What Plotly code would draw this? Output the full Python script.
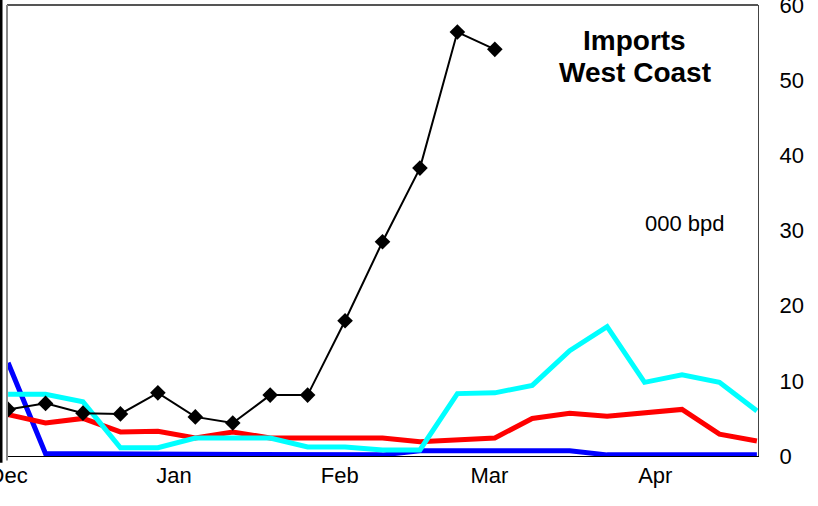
import plotly.graph_objects as go

dates = ["2002-12-01", "2002-12-08", "2002-12-15", "2002-12-22", "2002-12-29",
         "2003-01-05", "2003-01-12", "2003-01-19", "2003-01-26", "2003-02-02",
         "2003-02-09", "2003-02-16", "2003-02-23", "2003-03-02", "2003-03-09",
         "2003-03-16", "2003-03-23", "2003-03-30", "2003-04-06", "2003-04-13",
         "2003-04-20"]

black_vals = [6.2, 7.0, 5.7, 5.6, 8.4, 5.2, 4.4, 8.1, 8.1, 18.0, 28.5, 38.3, 56.4, 54.1]
red_vals = [5.5, 4.4, 5.0, 3.2, 3.3, 2.4, 3.2, 2.4, 2.4, 2.4, 2.4, 1.9, 2.1, 2.4,
            5.0, 5.7, 5.3, 5.7, 6.2, 2.9, 2.0]
cyan_vals = [8.2, 8.2, 7.2, 1.1, 1.1, 2.4, 2.4, 2.4, 1.2, 1.2, 0.8, 0.8, 8.3, 8.4,
             9.4, 14.0, 17.2, 9.8, 10.8, 9.8, 6.0]
blue_vals = [12.4, 0.3, 0.3, 0.3, 0.15, 0.15, 0.15, 0.15, 0.15, 0.15, 0.15, 0.7, 0.7,
             0.7, 0.7, 0.7, 0.15, 0.15, 0.15, 0.15, 0.15]

month_ticks = ["2002-12-01", "2003-01-01", "2003-02-01", "2003-03-01", "2003-04-01"]
month_labels = ["Dec", "Jan", "Feb", "Mar", "Apr"]
y_ticks = [0, 10, 20, 30, 40, 50, 60]

FONT = "Liberation Sans, Arial, sans-serif"

fig = go.Figure()
fig.add_trace(go.Scatter(x=dates, y=blue_vals, mode="lines",
                         line=dict(color="#0000FF", width=5), showlegend=False))
fig.add_trace(go.Scatter(x=dates, y=red_vals, mode="lines",
                         line=dict(color="#FF0000", width=5), showlegend=False))
fig.add_trace(go.Scatter(x=dates, y=cyan_vals, mode="lines",
                         line=dict(color="#00FFFF", width=5), showlegend=False))
fig.add_trace(go.Scatter(x=dates[:len(black_vals)], y=black_vals, mode="lines+markers",
                         line=dict(color="#000000", width=2),
                         marker=dict(symbol="diamond", size=12, color="#000000"),
                         showlegend=False))

fig.update_layout(
    width=818, height=506,
    margin=dict(l=7, r=60, t=5, b=50, autoexpand=False),
    paper_bgcolor="white", plot_bgcolor="white",
    font=dict(family=FONT, color="black", size=22),
    xaxis=dict(type="date", range=["2002-11-30 19:00", "2003-04-20 05:00"],
               tickvals=month_ticks, ticktext=month_labels,
               showgrid=False, zeroline=False, showline=True,
               linecolor="black", linewidth=1, ticks="", layer="below traces",
               ticklabeloverflow="allow",
               tickfont=dict(size=22, family=FONT), automargin=False),
    yaxis=dict(side="right", range=[0, 60], tickvals=y_ticks,
               showgrid=False, zeroline=False, showline=True,
               linecolor="#444444", linewidth=1, ticks="",
               ticklabelstandoff=16, ticklabeloverflow="allow",
               tickfont=dict(size=22, family=FONT), automargin=False),
    shapes=[
        dict(type="line", xref="paper", yref="paper", x0=0, x1=1, y0=1, y1=1,
             line=dict(color="#555555", width=2)),
        dict(type="line", xref="paper", yref="paper", x0=0, x1=0, y0=-0.01, y1=1,
             line=dict(color="#888888", width=2)),
        dict(type="line", xref="paper", yref="paper", x0=-6/751, x1=-6/751,
             y0=-0.015, y1=1.02, line=dict(color="black", width=3)),
    ],
    annotations=[
        dict(text="<b>Imports</b>", xref="paper", yref="paper",
             x=(634.5 - 7) / 751, y=(456 - 40) / 451, showarrow=False,
             font=dict(size=28, family=FONT), xanchor="center", yanchor="middle"),
        dict(text="<b>West Coast</b>", xref="paper", yref="paper",
             x=(635 - 7) / 751, y=(456 - 73) / 451, showarrow=False,
             font=dict(size=28, family=FONT), xanchor="center", yanchor="middle"),
        dict(text="000 bpd", xref="paper", yref="paper",
             x=(685 - 7) / 751, y=(456 - 223) / 451, showarrow=False,
             font=dict(size=22, family=FONT), xanchor="center", yanchor="middle"),
    ],
)

fig.write_html("out.html", config={"displayModeBar": False},
               post_script="document.body.style.margin='0';document.body.style.overflow='hidden';")
